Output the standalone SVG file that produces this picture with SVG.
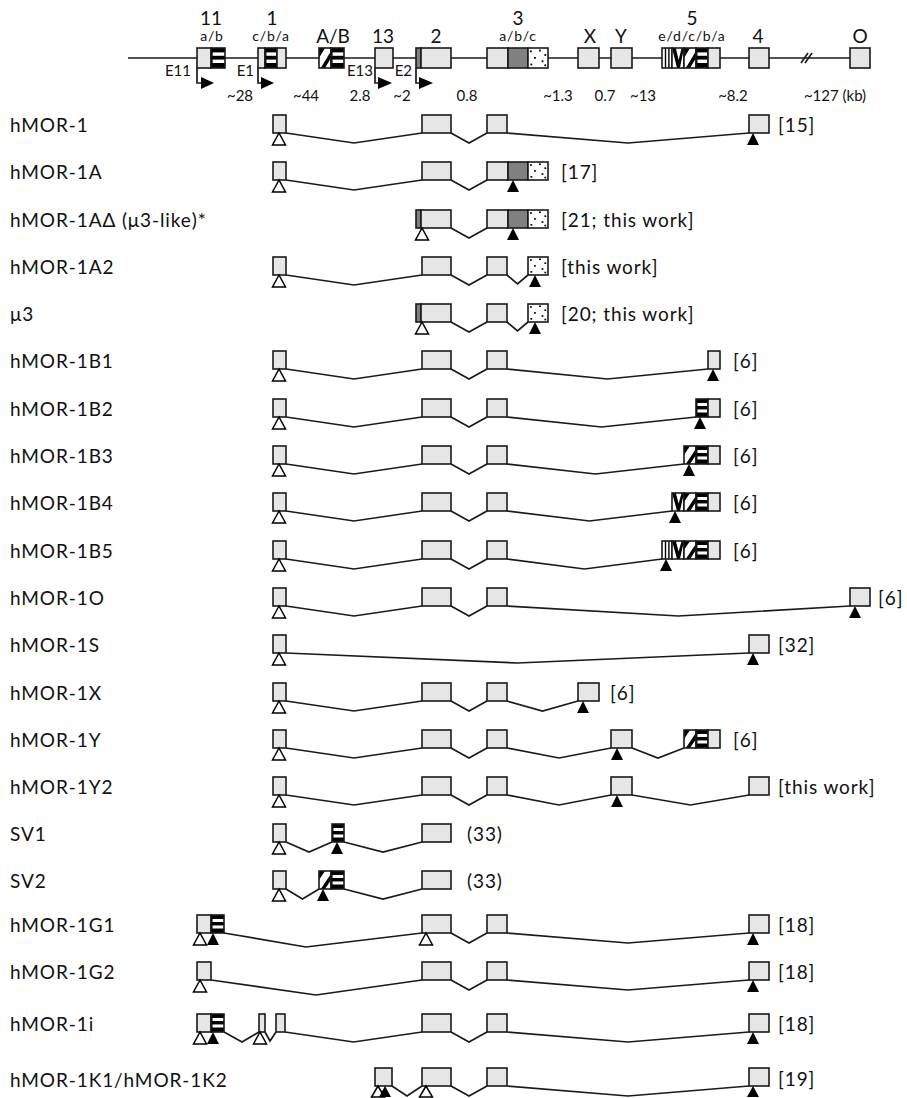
<svg xmlns="http://www.w3.org/2000/svg" width="907" height="1098" viewBox="0 0 907 1098">
<style>
.ex{fill:#e6e6e6;stroke:#1a1a1a;stroke-width:1.6}
.dk{fill:#808080;stroke:#1a1a1a;stroke-width:1.6}
.st{fill:url(#pStr);stroke:#1a1a1a;stroke-width:1.6}
.dt{fill:url(#pDot);stroke:#1a1a1a;stroke-width:1.6}
.dg{fill:url(#pDia);stroke:#1a1a1a;stroke-width:1.6}
.vv{fill:url(#pV);stroke:#1a1a1a;stroke-width:1.6}
.vs{fill:url(#pVer);stroke:#1a1a1a;stroke-width:1.6}
.ln{fill:none;stroke:#1a1a1a;stroke-width:1.7;stroke-linejoin:miter}
.ot{fill:#fff;stroke:#000;stroke-width:1.5}
.ft{fill:#000}
.lb{font-family:Lato,"Liberation Sans",sans-serif;font-size:19px;letter-spacing:0.9px;fill:#111}
.big{font-family:Lato,"Liberation Sans",sans-serif;font-size:19px;fill:#111;text-anchor:middle}
.sm{font-family:Lato,"Liberation Sans",sans-serif;font-size:14px;letter-spacing:0.8px;fill:#111;text-anchor:middle}
.ds{font-family:Lato,"Liberation Sans",sans-serif;font-size:15px;fill:#111;text-anchor:middle}
.pe{font-family:Lato,"Liberation Sans",sans-serif;font-size:15px;fill:#111;text-anchor:end}
</style>
<defs>
<pattern id="pStr" patternUnits="objectBoundingBox" patternContentUnits="objectBoundingBox" width="1" height="1">
<rect width="1" height="1" fill="#000"/>
<rect x="0.12" y="0.22" width="0.88" height="0.17" fill="#fff"/>
<rect x="0.12" y="0.58" width="0.88" height="0.17" fill="#fff"/>
</pattern>
<pattern id="pDot" patternUnits="objectBoundingBox" patternContentUnits="objectBoundingBox" width="1" height="1">
<rect width="1" height="1" fill="#fff"/>
<rect x="0.1" y="0.12" width="0.09" height="0.09" fill="#000"/>
<rect x="0.55" y="0.08" width="0.09" height="0.09" fill="#000"/>
<rect x="0.82" y="0.3" width="0.09" height="0.09" fill="#000"/>
<rect x="0.3" y="0.45" width="0.09" height="0.09" fill="#000"/>
<rect x="0.68" y="0.62" width="0.09" height="0.09" fill="#000"/>
<rect x="0.12" y="0.78" width="0.09" height="0.09" fill="#000"/>
<rect x="0.82" y="0.82" width="0.09" height="0.09" fill="#000"/>
</pattern>
<pattern id="pDia" patternUnits="objectBoundingBox" patternContentUnits="objectBoundingBox" width="1" height="1">
<rect width="1" height="1" fill="#fff"/>
<polygon points="0,0 0.5,0 0,0.5" fill="#000"/>
<polygon points="1,0.15 1,0.5 0.5,1 0.15,1" fill="#000"/>
</pattern>
<pattern id="pV" patternUnits="objectBoundingBox" patternContentUnits="objectBoundingBox" width="1" height="1">
<rect width="1" height="1" fill="#fff"/>
<polygon points="0,0 0.32,0 0.55,0.6 0.8,0 1,0 0.66,1 0.42,1" fill="#000"/>
</pattern>
<pattern id="pVer" patternUnits="objectBoundingBox" patternContentUnits="objectBoundingBox" width="1" height="1">
<rect width="1" height="1" fill="#fff"/>
<rect x="0.28" y="0" width="0.14" height="1" fill="#000"/>
<rect x="0.62" y="0" width="0.14" height="1" fill="#000"/>
</pattern>
</defs>
<rect width="907" height="1098" fill="#fff"/>

<g id="header">
<line x1="128" y1="58" x2="850" y2="58" class="ln"/>
<line x1="801" y1="63" x2="808" y2="53" class="ln"/>
<line x1="805" y1="63" x2="812" y2="53" class="ln"/>
<rect x="197" y="48" width="14" height="20" class="ex"/><rect x="211" y="48" width="14" height="20" class="st"/>
<rect x="258" y="48" width="7" height="20" class="ex"/><rect x="265" y="48" width="12" height="20" class="st"/><rect x="277" y="48" width="9" height="20" class="ex"/>
<rect x="319" y="48" width="12" height="20" class="dg"/><rect x="331" y="48" width="13" height="20" class="st"/>
<rect x="375" y="48" width="18" height="20" class="ex"/>
<rect x="416" y="48" width="5" height="20" class="dk"/><rect x="421" y="48" width="30" height="20" class="ex"/>
<rect x="487" y="48" width="21" height="20" class="ex"/><rect x="508" y="48" width="20" height="20" class="dk"/><rect x="528" y="48" width="20" height="20" class="dt"/>
<rect x="578" y="48" width="21" height="20" class="ex"/>
<rect x="611" y="48" width="21" height="20" class="ex"/>
<rect x="662" y="48" width="10" height="20" class="vs"/><rect x="672" y="48" width="12" height="20" class="vv"/><rect x="684" y="48" width="12" height="20" class="dg"/><rect x="696" y="48" width="12" height="20" class="st"/><rect x="708" y="48" width="12" height="20" class="ex"/>
<rect x="749" y="48" width="20" height="20" class="ex"/>
<rect x="850" y="48" width="20" height="20" class="ex"/>
<path d="M197,68 V83 H204 M258,68 V83 H264 M375,68 V83 H381 M416,68 V83 H422" class="ln"/>
<polygon points="201,77 214,83 201,89" class="ft"/>
<polygon points="261,77 274,83 261,89" class="ft"/>
<polygon points="378,77 392,83 378,89" class="ft"/>
<polygon points="419,77 433,83 419,89" class="ft"/>
<text x="211" y="25" class="big">11</text><text x="212" y="41" class="sm">a/b</text>
<text x="272" y="25" class="big">1</text><text x="271" y="41" class="sm">c/b/a</text>
<text x="333" y="43" class="big">A/B</text>
<text x="383" y="43" class="big">13</text>
<text x="436" y="43" class="big">2</text>
<text x="518" y="25" class="big">3</text><text x="518" y="41" class="sm">a/b/c</text>
<text x="590" y="43" class="big">X</text>
<text x="621" y="43" class="big">Y</text>
<text x="692" y="25" class="big">5</text><text x="692" y="41" class="sm">e/d/c/b/a</text>
<text x="758" y="43" class="big">4</text>
<text x="860" y="43" class="big">O</text>
<text x="191" y="76" class="pe">E11</text>
<text x="254" y="76" class="pe">E1</text>
<text x="373" y="76" class="pe">E13</text>
<text x="412" y="76" class="pe">E2</text>
<text x="240" y="101" class="ds">~28</text>
<text x="306" y="101" class="ds">~44</text>
<text x="360" y="101" class="ds">2.8</text>
<text x="402" y="101" class="ds">~2</text>
<text x="467" y="101" class="ds">0.8</text>
<text x="558" y="101" class="ds">~1.3</text>
<text x="605" y="101" class="ds">0.7</text>
<text x="643" y="101" class="ds">~13</text>
<text x="733" y="101" class="ds">~8.2</text>
<text x="835" y="101" class="ds">~127 (kb)</text>
</g>

<g id="connectors">
<path class="ln" d="M286,133 L354,143 L422,133 M451,133 L469,143 L487,133 M507,133 L628,143 L749,133"/>
<path class="ln" d="M286,180 L354,190 L422,180 M451,180 L469,190 L487,180"/>
<path class="ln" d="M451,228 L469,238 L487,228"/>
<path class="ln" d="M286,275 L354,285 L422,275 M451,275 L469,285 L487,275 M507,275 L517.5,284 L528,275"/>
<path class="ln" d="M451,322 L469,332 L487,322 M507,322 L517.5,331 L528,322"/>
<path class="ln" d="M286,369 L354,379 L422,369 M451,369 L469,379 L487,369 M507,369 L607.5,379 L708,369"/>
<path class="ln" d="M286,417 L354,427 L422,417 M451,417 L469,427 L487,417 M507,417 L601.5,427 L696,417"/>
<path class="ln" d="M286,464 L354,474 L422,464 M451,464 L469,474 L487,464 M507,464 L595.5,474 L684,464"/>
<path class="ln" d="M286,511 L354,521 L422,511 M451,511 L469,521 L487,511 M507,511 L589.5,521 L672,511"/>
<path class="ln" d="M286,559 L354,569 L422,559 M451,559 L469,569 L487,559 M507,559 L584.5,569 L662,559"/>
<path class="ln" d="M286,606 L354,616 L422,606 M451,606 L469,616 L487,606 M507,606 L678.5,616 L850,606"/>
<path class="ln" d="M286,653 L517.5,663 L749,653"/>
<path class="ln" d="M286,701 L354,711 L422,701 M451,701 L469,711 L487,701 M507,701 L542.5,711 L578,701"/>
<path class="ln" d="M286,748 L354,758 L422,748 M451,748 L469,758 L487,748 M507,748 L559,758 L611,748 M632,748 L658,758 L684,748"/>
<path class="ln" d="M286,795 L354,805 L422,795 M451,795 L469,805 L487,795 M507,795 L559,805 L611,795 M632,795 L690.5,805 L749,795"/>
<path class="ln" d="M286,842 L309,852 L332,842 M344,842 L383,852 L422,842"/>
<path class="ln" d="M286,889 L302.5,899 L319,889 M344,889 L383,899 L422,889"/>
<path class="ln" d="M224,933 L306,947 L422,933 M451,933 L469,943 L487,933 M507,933 L628,943 L749,933"/>
<path class="ln" d="M211,980 L316,995 L422,980 M451,980 L469,990 L487,980 M507,980 L628,990 L749,980"/>
<path class="ln" d="M224,1032 L242,1042 L259,1032 M265,1032 L270,1041 L276,1032 M285,1032 L353.5,1042 L422,1032 M451,1032 L469,1042 L487,1032 M507,1032 L628,1042 L749,1032"/>
<path class="ln" d="M392,1086 L407,1096 L422,1086 M451,1086 L469,1096 L487,1086 M507,1086 L628,1096 L749,1086"/>
</g>

<g id="r01">
<text x="10" y="132" class="lb">hMOR-1</text>
<rect x="273" y="115" width="13" height="18" class="ex"/>
<rect x="422" y="115" width="29" height="18" class="ex"/>
<rect x="487" y="115" width="20" height="18" class="ex"/>
<rect x="749" y="115" width="20" height="18" class="ex"/>
<polygon points="279,133 272.5,145 285.5,145" class="ot"/>
<polygon points="753,133 747,145 759,145" class="ft"/>
<text x="778" y="132" class="lb">[15]</text>
</g>

<g id="r02">
<text x="10" y="179" class="lb">hMOR-1A</text>
<rect x="273" y="162" width="13" height="18" class="ex"/>
<rect x="422" y="162" width="29" height="18" class="ex"/>
<rect x="487" y="162" width="21" height="18" class="ex"/><rect x="508" y="162" width="20" height="18" class="dk"/><rect x="528" y="162" width="20" height="18" class="dt"/>
<polygon points="279,180 272.5,192 285.5,192" class="ot"/>
<polygon points="513,180 507,192 519,192" class="ft"/>
<text x="561" y="179" class="lb">[17]</text>
</g>

<g id="r03">
<text x="10" y="227" class="lb">hMOR-1AΔ (μ3-like)*</text>
<rect x="416" y="210" width="5" height="18" class="dk"/><rect x="421" y="210" width="30" height="18" class="ex"/>
<rect x="487" y="210" width="21" height="18" class="ex"/><rect x="508" y="210" width="20" height="18" class="dk"/><rect x="528" y="210" width="20" height="18" class="dt"/>
<polygon points="422,228 415.5,240 428.5,240" class="ot"/>
<polygon points="513,228 507,240 519,240" class="ft"/>
<text x="561" y="227" class="lb">[21; this work]</text>
</g>

<g id="r04">
<text x="10" y="274" class="lb">hMOR-1A2</text>
<rect x="273" y="257" width="13" height="18" class="ex"/>
<rect x="422" y="257" width="29" height="18" class="ex"/>
<rect x="487" y="257" width="20" height="18" class="ex"/>
<rect x="528" y="257" width="20" height="18" class="dt"/>
<polygon points="279,275 272.5,287 285.5,287" class="ot"/>
<polygon points="535,275 529,287 541,287" class="ft"/>
<text x="561" y="274" class="lb">[this work]</text>
</g>

<g id="r05">
<text x="10" y="321" class="lb">μ3</text>
<rect x="416" y="304" width="5" height="18" class="dk"/><rect x="421" y="304" width="30" height="18" class="ex"/>
<rect x="487" y="304" width="20" height="18" class="ex"/>
<rect x="528" y="304" width="20" height="18" class="dt"/>
<polygon points="422,322 415.5,334 428.5,334" class="ot"/>
<polygon points="535,322 529,334 541,334" class="ft"/>
<text x="561" y="321" class="lb">[20; this work]</text>
</g>

<g id="r06">
<text x="10" y="368" class="lb">hMOR-1B1</text>
<rect x="273" y="351" width="13" height="18" class="ex"/>
<rect x="422" y="351" width="29" height="18" class="ex"/>
<rect x="487" y="351" width="20" height="18" class="ex"/>
<rect x="708" y="351" width="12" height="18" class="ex"/>
<polygon points="279,369 272.5,381 285.5,381" class="ot"/>
<polygon points="713,369 707,381 719,381" class="ft"/>
<text x="733" y="368" class="lb">[6]</text>
</g>

<g id="r07">
<text x="10" y="416" class="lb">hMOR-1B2</text>
<rect x="273" y="399" width="13" height="18" class="ex"/>
<rect x="422" y="399" width="29" height="18" class="ex"/>
<rect x="487" y="399" width="20" height="18" class="ex"/>
<rect x="696" y="399" width="12" height="18" class="st"/><rect x="708" y="399" width="12" height="18" class="ex"/>
<polygon points="279,417 272.5,429 285.5,429" class="ot"/>
<polygon points="700,417 694,429 706,429" class="ft"/>
<text x="733" y="416" class="lb">[6]</text>
</g>

<g id="r08">
<text x="10" y="463" class="lb">hMOR-1B3</text>
<rect x="273" y="446" width="13" height="18" class="ex"/>
<rect x="422" y="446" width="29" height="18" class="ex"/>
<rect x="487" y="446" width="20" height="18" class="ex"/>
<rect x="684" y="446" width="12" height="18" class="dg"/><rect x="696" y="446" width="12" height="18" class="st"/><rect x="708" y="446" width="12" height="18" class="ex"/>
<polygon points="279,464 272.5,476 285.5,476" class="ot"/>
<polygon points="689,464 683,476 695,476" class="ft"/>
<text x="733" y="463" class="lb">[6]</text>
</g>

<g id="r09">
<text x="10" y="510" class="lb">hMOR-1B4</text>
<rect x="273" y="493" width="13" height="18" class="ex"/>
<rect x="422" y="493" width="29" height="18" class="ex"/>
<rect x="487" y="493" width="20" height="18" class="ex"/>
<rect x="672" y="493" width="12" height="18" class="vv"/><rect x="684" y="493" width="12" height="18" class="dg"/><rect x="696" y="493" width="12" height="18" class="st"/><rect x="708" y="493" width="12" height="18" class="ex"/>
<polygon points="279,511 272.5,523 285.5,523" class="ot"/>
<polygon points="675,511 669,523 681,523" class="ft"/>
<text x="733" y="510" class="lb">[6]</text>
</g>

<g id="r10">
<text x="10" y="558" class="lb">hMOR-1B5</text>
<rect x="273" y="541" width="13" height="18" class="ex"/>
<rect x="422" y="541" width="29" height="18" class="ex"/>
<rect x="487" y="541" width="20" height="18" class="ex"/>
<rect x="662" y="541" width="10" height="18" class="vs"/><rect x="672" y="541" width="12" height="18" class="vv"/><rect x="684" y="541" width="12" height="18" class="dg"/><rect x="696" y="541" width="12" height="18" class="st"/><rect x="708" y="541" width="12" height="18" class="ex"/>
<polygon points="279,559 272.5,571 285.5,571" class="ot"/>
<polygon points="666,559 660,571 672,571" class="ft"/>
<text x="733" y="558" class="lb">[6]</text>
</g>

<g id="r11">
<text x="10" y="605" class="lb">hMOR-1O</text>
<rect x="273" y="588" width="13" height="18" class="ex"/>
<rect x="422" y="588" width="29" height="18" class="ex"/>
<rect x="487" y="588" width="20" height="18" class="ex"/>
<rect x="850" y="588" width="20" height="18" class="ex"/>
<polygon points="279,606 272.5,618 285.5,618" class="ot"/>
<polygon points="855,606 849,618 861,618" class="ft"/>
<text x="878" y="605" class="lb">[6]</text>
</g>

<g id="r12">
<text x="10" y="652" class="lb">hMOR-1S</text>
<rect x="273" y="635" width="13" height="18" class="ex"/>
<rect x="749" y="635" width="20" height="18" class="ex"/>
<polygon points="279,653 272.5,665 285.5,665" class="ot"/>
<polygon points="753,653 747,665 759,665" class="ft"/>
<text x="778" y="652" class="lb">[32]</text>
</g>

<g id="r13">
<text x="10" y="700" class="lb">hMOR-1X</text>
<rect x="273" y="683" width="13" height="18" class="ex"/>
<rect x="422" y="683" width="29" height="18" class="ex"/>
<rect x="487" y="683" width="20" height="18" class="ex"/>
<rect x="578" y="683" width="21" height="18" class="ex"/>
<polygon points="279,701 272.5,713 285.5,713" class="ot"/>
<polygon points="583,701 577,713 589,713" class="ft"/>
<text x="610" y="700" class="lb">[6]</text>
</g>

<g id="r14">
<text x="10" y="747" class="lb">hMOR-1Y</text>
<rect x="273" y="730" width="13" height="18" class="ex"/>
<rect x="422" y="730" width="29" height="18" class="ex"/>
<rect x="487" y="730" width="20" height="18" class="ex"/>
<rect x="611" y="730" width="21" height="18" class="ex"/>
<rect x="684" y="730" width="12" height="18" class="dg"/><rect x="696" y="730" width="12" height="18" class="st"/><rect x="708" y="730" width="12" height="18" class="ex"/>
<polygon points="279,748 272.5,760 285.5,760" class="ot"/>
<polygon points="617,748 611,760 623,760" class="ft"/>
<text x="733" y="747" class="lb">[6]</text>
</g>

<g id="r15">
<text x="10" y="794" class="lb">hMOR-1Y2</text>
<rect x="273" y="777" width="13" height="18" class="ex"/>
<rect x="422" y="777" width="29" height="18" class="ex"/>
<rect x="487" y="777" width="20" height="18" class="ex"/>
<rect x="611" y="777" width="21" height="18" class="ex"/>
<rect x="749" y="777" width="20" height="18" class="ex"/>
<polygon points="279,795 272.5,807 285.5,807" class="ot"/>
<polygon points="617,795 611,807 623,807" class="ft"/>
<text x="778" y="794" class="lb">[this work]</text>
</g>

<g id="r16">
<text x="10" y="841" class="lb">SV1</text>
<rect x="273" y="824" width="13" height="18" class="ex"/>
<rect x="332" y="824" width="12" height="18" class="st"/>
<rect x="422" y="824" width="29" height="18" class="ex"/>
<polygon points="279,842 272.5,854 285.5,854" class="ot"/>
<polygon points="337,842 331,854 343,854" class="ft"/>
<text x="467" y="841" class="lb">(33)</text>
</g>

<g id="r17">
<text x="10" y="888" class="lb">SV2</text>
<rect x="273" y="871" width="13" height="18" class="ex"/>
<rect x="319" y="871" width="12" height="18" class="dg"/><rect x="331" y="871" width="13" height="18" class="st"/>
<rect x="422" y="871" width="29" height="18" class="ex"/>
<polygon points="279,889 272.5,901 285.5,901" class="ot"/>
<polygon points="323,889 317,901 329,901" class="ft"/>
<text x="467" y="888" class="lb">(33)</text>
</g>

<g id="r18">
<text x="10" y="932" class="lb">hMOR-1G1</text>
<rect x="197" y="915" width="14" height="18" class="ex"/><rect x="211" y="915" width="13" height="18" class="st"/>
<rect x="422" y="915" width="29" height="18" class="ex"/>
<rect x="487" y="915" width="20" height="18" class="ex"/>
<rect x="749" y="915" width="20" height="18" class="ex"/>
<polygon points="200,933 193.5,945 206.5,945" class="ot"/>
<polygon points="213,933 207,945 219,945" class="ft"/>
<polygon points="426,933 419.5,945 432.5,945" class="ot"/>
<polygon points="753,933 747,945 759,945" class="ft"/>
<text x="778" y="932" class="lb">[18]</text>
</g>

<g id="r19">
<text x="10" y="979" class="lb">hMOR-1G2</text>
<rect x="197" y="962" width="14" height="18" class="ex"/>
<rect x="422" y="962" width="29" height="18" class="ex"/>
<rect x="487" y="962" width="20" height="18" class="ex"/>
<rect x="749" y="962" width="20" height="18" class="ex"/>
<polygon points="200,980 193.5,992 206.5,992" class="ot"/>
<polygon points="753,980 747,992 759,992" class="ft"/>
<text x="778" y="979" class="lb">[18]</text>
</g>

<g id="r20">
<text x="10" y="1031" class="lb">hMOR-1i</text>
<rect x="197" y="1014" width="14" height="18" class="ex"/><rect x="211" y="1014" width="13" height="18" class="st"/>
<rect x="259" y="1014" width="6" height="18" class="ex"/>
<rect x="276" y="1014" width="9" height="18" class="ex"/>
<rect x="422" y="1014" width="29" height="18" class="ex"/>
<rect x="487" y="1014" width="20" height="18" class="ex"/>
<rect x="749" y="1014" width="20" height="18" class="ex"/>
<polygon points="200,1032 193.5,1044 206.5,1044" class="ot"/>
<polygon points="213,1032 207,1044 219,1044" class="ft"/>
<polygon points="260,1032 253.5,1044 266.5,1044" class="ot"/>
<polygon points="753,1032 747,1044 759,1044" class="ft"/>
<text x="778" y="1031" class="lb">[18]</text>
</g>

<g id="r21">
<text x="10" y="1087" class="lb">hMOR-1K1/hMOR-1K2</text>
<rect x="375" y="1068" width="17" height="18" class="ex"/>
<rect x="422" y="1068" width="29" height="18" class="ex"/>
<rect x="487" y="1068" width="20" height="18" class="ex"/>
<rect x="749" y="1068" width="20" height="18" class="ex"/>
<polygon points="378,1086 371.5,1097 384.5,1097" class="ot"/>
<polygon points="385,1086 379,1097 391,1097" class="ft"/>
<polygon points="426,1086 419.5,1097 432.5,1097" class="ot"/>
<polygon points="753,1086 747,1097 759,1097" class="ft"/>
<text x="778" y="1086" class="lb">[19]</text>
</g>
</svg>
